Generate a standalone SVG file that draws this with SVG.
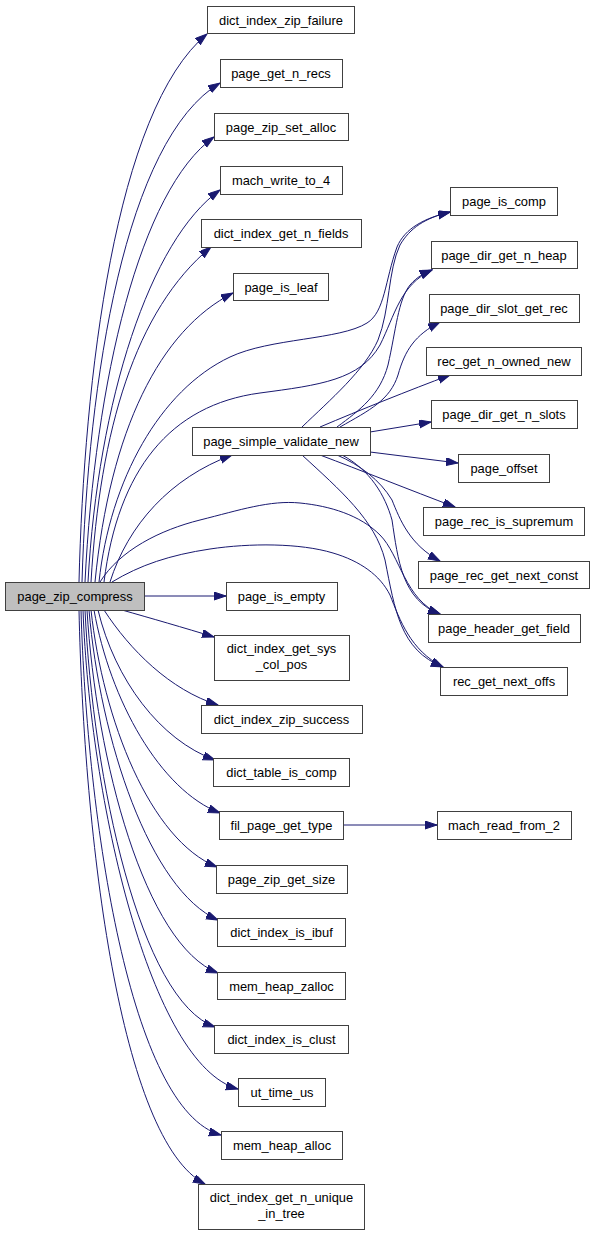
<svg xmlns="http://www.w3.org/2000/svg" width="595" height="1235" viewBox="0 0 595 1235">
<style>
.n rect{fill:#ffffff;stroke:#404040;stroke-width:1}
.n.root rect{fill:#bfbfbf}
.n text{font-family:"Liberation Sans",Arial,Helvetica,sans-serif;font-size:12.9px;fill:#000000;text-anchor:middle}
.e path{fill:none;stroke:#191970;stroke-width:1;marker-end:url(#ah)}
</style>
<defs>
<marker id="ah" markerWidth="13" markerHeight="9" refX="12" refY="4" orient="auto" markerUnits="userSpaceOnUse">
<path d="M0,0L12,4L0,8z" fill="#191970" stroke="#191970" stroke-width="1"/>
</marker>
</defs>
<rect width="595" height="1235" fill="#ffffff"/>
<g id="connectors" class="e">
<path d="M79,582 C84,380 115,110 207,34"/>
<path d="M82,582 C88,380 125,140 220,83"/>
<path d="M85,582 C95,380 140,190 214,137"/>
<path d="M88,582 C98,400 150,240 220,190"/>
<path d="M91,582 C100,430 135,310 211,247"/>
<path d="M95,582 C110,430 160,330 233,293"/>
<path d="M99,582 C110,480 160,390 230,357 C270,338 340,340 367,323 C385,312 385,280 397,247 C405,228 425,218 450,212"/>
<path d="M104,582 C118,470 170,405 260,393 C320,385 360,380 380,345 C395,315 400,285 432,270"/>
<path d="M110,582 C128,525 170,478 232,455"/>
<path d="M100,582 C120,550 160,530 200,520 C240,510 270,500 300,503 C330,506 360,515 380,535 C400,555 405,600 440,614"/>
<path d="M112,582 C140,565 170,555 210,549 C250,543 300,543 333,553 C360,561 380,575 390,595 C400,620 410,650 443,667"/>
<path d="M144,596 L226,596"/>
<path d="M122,610 C150,618 185,628 214,637"/>
<path d="M104,610 C130,650 170,690 218,705"/>
<path d="M98,610 C115,680 160,740 215,760"/>
<path d="M94,610 C110,700 160,790 220,813"/>
<path d="M91,610 C103,720 150,840 217,867"/>
<path d="M89,610 C100,740 150,890 218,920"/>
<path d="M87,610 C96,760 145,945 218,973"/>
<path d="M85,610 C93,780 140,1000 215,1027"/>
<path d="M83,610 C90,800 150,1065 238,1089"/>
<path d="M81,610 C87,820 130,1110 221,1135"/>
<path d="M79,610 C84,840 120,1140 205,1184"/>
<path d="M302,427 C330,400 365,370 378,340 C390,310 388,270 400,245 C410,228 425,218 450,212"/>
<path d="M337,427 C360,410 380,395 388,365 C396,330 398,300 410,285 C417,277 424,273 432,270"/>
<path d="M340,427 C370,410 390,400 398,375 C405,350 415,335 440,322"/>
<path d="M320,427 C360,410 410,390 450,375"/>
<path d="M370,432 L431,422"/>
<path d="M370,452 L458,463"/>
<path d="M320,455 C360,470 410,490 455,507"/>
<path d="M337,455 C360,465 380,480 392,500 C400,520 410,545 440,561"/>
<path d="M342,455 C370,470 385,495 392,520 C398,560 402,600 440,614"/>
<path d="M302,455 C340,490 375,520 385,560 C395,610 400,650 443,667"/>
<path d="M343,825 L437,825"/>
</g>
<g id="page_zip_compress" class="n root"><rect x="5.5" y="582.5" width="139" height="28"/><text x="75" y="601">page_zip_compress</text></g>
<g id="dict_index_zip_failure" class="n"><rect x="207.5" y="6.5" width="147" height="27"/><text x="281" y="24.5">dict_index_zip_failure</text></g>
<g id="page_get_n_recs" class="n"><rect x="220.5" y="59.5" width="122" height="28"/><text x="281" y="78">page_get_n_recs</text></g>
<g id="page_zip_set_alloc" class="n"><rect x="214.5" y="113.5" width="134" height="27"/><text x="281" y="131.5">page_zip_set_alloc</text></g>
<g id="mach_write_to_4" class="n"><rect x="220.5" y="166.5" width="122" height="28"/><text x="281" y="185">mach_write_to_4</text></g>
<g id="dict_index_get_n_fields" class="n"><rect x="201.5" y="219.5" width="160" height="28"/><text x="281" y="238">dict_index_get_n_fields</text></g>
<g id="page_is_leaf" class="n"><rect x="233.5" y="273.5" width="95" height="27"/><text x="281" y="291.5">page_is_leaf</text></g>
<g id="page_simple_validate_new" class="n"><rect x="192.5" y="427.5" width="178" height="28"/><text x="281" y="446">page_simple_validate_new</text></g>
<g id="page_is_empty" class="n"><rect x="226.5" y="582.5" width="111" height="28"/><text x="281.5" y="601">page_is_empty</text></g>
<g id="dict_index_get_sys_col_pos" class="n"><rect x="214.5" y="635.5" width="135" height="45"/><text x="281.5" y="652.5">dict_index_get_sys</text><text x="281.5" y="668.5">_col_pos</text></g>
<g id="dict_index_zip_success" class="n"><rect x="201.5" y="705.5" width="161" height="28"/><text x="281.5" y="724">dict_index_zip_success</text></g>
<g id="dict_table_is_comp" class="n"><rect x="213.5" y="758.5" width="136" height="28"/><text x="281.5" y="777">dict_table_is_comp</text></g>
<g id="fil_page_get_type" class="n"><rect x="219.5" y="811.5" width="124" height="28"/><text x="281.5" y="830">fil_page_get_type</text></g>
<g id="page_zip_get_size" class="n"><rect x="216.5" y="865.5" width="131" height="28"/><text x="281.5" y="884">page_zip_get_size</text></g>
<g id="dict_index_is_ibuf" class="n"><rect x="217.5" y="918.5" width="128" height="28"/><text x="281.5" y="937">dict_index_is_ibuf</text></g>
<g id="mem_heap_zalloc" class="n"><rect x="217.5" y="972.5" width="128" height="27"/><text x="281.5" y="990.5">mem_heap_zalloc</text></g>
<g id="dict_index_is_clust" class="n"><rect x="214.5" y="1025.5" width="134" height="28"/><text x="281.5" y="1044">dict_index_is_clust</text></g>
<g id="ut_time_us" class="n"><rect x="238.5" y="1078.5" width="87" height="28"/><text x="282" y="1097">ut_time_us</text></g>
<g id="mem_heap_alloc" class="n"><rect x="221.5" y="1131.5" width="121" height="28"/><text x="282" y="1150">mem_heap_alloc</text></g>
<g id="dict_index_get_n_unique_in_tree" class="n"><rect x="198.5" y="1184.5" width="166" height="45"/><text x="281.5" y="1201.5">dict_index_get_n_unique</text><text x="281.5" y="1217.5">_in_tree</text></g>
<g id="page_is_comp" class="n"><rect x="450.5" y="187.5" width="107" height="28"/><text x="504" y="206">page_is_comp</text></g>
<g id="page_dir_get_n_heap" class="n"><rect x="431.5" y="241.5" width="146" height="27"/><text x="504" y="259.5">page_dir_get_n_heap</text></g>
<g id="page_dir_slot_get_rec" class="n"><rect x="429.5" y="294.5" width="150" height="28"/><text x="504" y="313">page_dir_slot_get_rec</text></g>
<g id="rec_get_n_owned_new" class="n"><rect x="426.5" y="347.5" width="155" height="28"/><text x="504" y="366">rec_get_n_owned_new</text></g>
<g id="page_dir_get_n_slots" class="n"><rect x="431.5" y="400.5" width="146" height="28"/><text x="504" y="419">page_dir_get_n_slots</text></g>
<g id="page_offset" class="n"><rect x="458.5" y="454.5" width="91" height="28"/><text x="504" y="473">page_offset</text></g>
<g id="page_rec_is_supremum" class="n"><rect x="423.5" y="507.5" width="161" height="28"/><text x="504" y="526">page_rec_is_supremum</text></g>
<g id="page_rec_get_next_const" class="n"><rect x="418.5" y="561.5" width="171" height="27"/><text x="504" y="579.5">page_rec_get_next_const</text></g>
<g id="page_header_get_field" class="n"><rect x="428.5" y="614.5" width="152" height="28"/><text x="504" y="633">page_header_get_field</text></g>
<g id="rec_get_next_offs" class="n"><rect x="440.5" y="667.5" width="127" height="28"/><text x="504" y="686">rec_get_next_offs</text></g>
<g id="mach_read_from_2" class="n"><rect x="437.5" y="811.5" width="134" height="28"/><text x="504" y="830">mach_read_from_2</text></g>
</svg>
